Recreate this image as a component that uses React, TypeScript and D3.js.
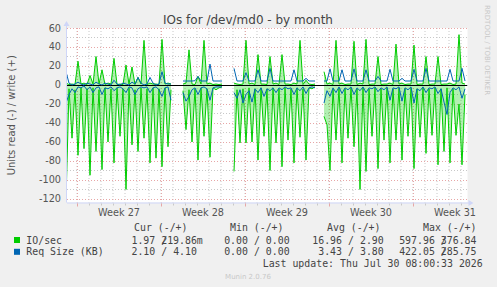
import { scaleLinear, scaleUtc, line, area, utcMonday, utcDay, utcFormat, range } from "d3";

const W = 497;
const H = 287;

// samples every 6 hours, starting 2026-06-28 02:00 UTC
const SAMPLE_START = Date.UTC(2026, 5, 28, 2);
const SAMPLE_STEP = 6 * 3600 * 1000;

// IO/sec, read (drawn below zero) and write (drawn above zero)
const ioRead: (number | null)[] = [
  122, 4, 56, 5, 74, 3, 67, 4, 95, 3, 70, 5, 89, 3, 60, 4, 82, 3, 54, 4,
  110, 3, 63, 5, 70, 3, 56, 4, 82, 3, 77, 4, 86, 3, 65, 5, null, null, null, 6,
  47, 5, 60, 4, 79, 3, 54, 4, 76, 3, 5, 3, 2, null, null, null, 91, 5, 61, 4,
  61, 3, 60, 4, 79, 3, 54, 4, 90, 3, 61, 4, 86, 3, 58, 4, 82, 3, 55, 4,
  79, 3, 4, 2, null, null, 33, 42, 90, 4, 58, 3, 82, 4, 56, 3, 65, 4, 110, 3,
  91, 4, 54, 3, 88, 4, 58, 3, 82, 4, 58, 3, 79, 4, 54, 3, 88, 4, 55, 3,
  72, 4, 53, 3, 84, 4, 70, 3, 82, 4, 53, 20, 84, 10,
];
const ioWrite: (number | null)[] = [
  2, 0.5, 1, 0.5, 25, 1, 2, 0.5, 10, 1, 30, 1, 16, 0.5, 2, 1, 28, 0.5, 1, 0.5,
  21, 1, 19, 0.5, 8, 1, 47, 0.5, 2, 1, 1, 0.5, 48, 1, 2, 1, null, null, null, 1,
  2, 37, 1, 0.5, 9, 1, 47, 1, 2, 0.5, 1, 0.5, 1, null, null, null, 2, 1, 0.5, 1,
  47, 1, 2, 0.5, 32, 1, 1, 0.5, 30, 1, 2, 0.5, 32, 1, 1, 0.5, 2, 1, 47, 0.5,
  5, 1, 0.5, 1, null, null, 14, 1, 2, 0.5, 47, 1, 2, 0.5, 1, 1, 46, 0.5, 2, 1,
  48, 0.5, 1, 1, 30, 0.5, 1, 1, 2, 0.5, 43, 1, 2, 0.5, 1, 1, 42, 0.5, 1, 1,
  30, 0.5, 1, 1, 30, 0.5, 1, 1, 2, 0.5, 1, 53, 2, 1,
];

// Req Size (KB), read and write
const reqRead: (number | null)[] = [
  19, 10, 4, 8, 2, 3, 1, 5, 2, 8, 3, 2, 10, 3, 4, 2, 6, 3, 2, 4,
  8, 2, 3, 10, 4, 2, 3, 2, 8, 3, 2, 5, 12, 3, 2, 16, null, null, null, 8,
  17, 12, 5, 3, 10, 3, 2, 4, 16, 3, 2, 2, 2, null, null, null, 8, 14, 5, 19,
  10, 6, 18, 4, 8, 3, 12, 4, 6, 3, 8, 3, 5, 2, 4, 3, 10, 3, 6, 2,
  9, 3, 2, 3, null, null, 19, 6, 12, 3, 8, 2, 9, 3, 5, 2, 10, 3, 6, 2,
  8, 3, 4, 2, 7, 3, 5, 2, 16, 3, 4, 2, 17, 3, 5, 2, 19, 4, 6, 2,
  8, 3, 4, 2, 9, 4, 18, 31, 8, 3, 5, 2, 14, 4,
];
const reqWrite: (number | null)[] = [
  14, 2, 0, 1, 3, 1, 0, 2, 1, 0, 3, 1, 0, 2, 1, 0, 5, 1, 0, 2,
  1, 0, 3, 1, 8, 2, 0, 1, 8, 2, 0, 1, 14, 2, 1, 1, null, null, null, 4.2,
  4.2, 4.2, 4.2, 4.5, 9, 4.2, 4.2, 4.2, 22, 4.2, 4.2, 4.2, 4.2, null, null, null, 17.5, 4.2, 4.2, 4.2,
  13, 4.2, 4.2, 4.2, 16, 4.2, 4.2, 4.2, 17.5, 4.2, 4.2, 4.2, 4.2, 4.2, 4.2, 4.2, 16, 4.2, 4.2, 4.2,
  7, 4.2, 4.2, 4.2, null, null, 4.2, 4.2, 17, 4.2, 4.2, 4.2, 16, 4.2, 4.2, 4.2, 17, 4.2, 4.2, 4.2,
  16, 4.2, 4.2, 4.2, 9, 4.2, 4.2, 4.2, 16.5, 4.2, 4.2, 4.2, 7, 4.2, 4.2, 4.2, 16.5, 4.2, 4.2, 4.2,
  17.5, 4.2, 4.2, 4.2, 4.2, 4.2, 4.2, 4.2, 16.5, 4.2, 4.2, 4.2, 17.5, 4.2,
];

const yTicks = [60, 40, 20, 0, -20, -40, -60, -80, -100, -120];
const gridValues = range(-120, 61, 10);

const legendHeaders = ["Cur (-/+)", "Min (-/+)", "Avg (-/+)", "Max (-/+)"];
const legendRows = [
  { name: "IO/sec", color: "#00cc00", values: [["1.97", "219.86m"], ["0.00", "0.00"], ["16.96", "2.90"], ["597.96", "376.84"]] },
  { name: "Req Size (KB)", color: "#0066b3", values: [["2.10", "4.10"], ["0.00", "0.00"], ["3.43", "3.80"], ["422.05", "285.75"]] },
];

const left = 67;
const right = 467.5;
const top = 28;
const bottom = 202.5;

const x = scaleUtc()
  .domain([new Date(Date.UTC(2026, 5, 28, 4)), new Date(Date.UTC(2026, 6, 31, 13))])
  .range([left, right]);
const y = scaleLinear().domain([-123.7, 60]).range([bottom, top]);

const t = (i: number) => new Date(SAMPLE_START + i * SAMPLE_STEP);

const toPoints = (vals: (number | null)[], sign: number) =>
  vals.map((v, i) => ({ d: t(i), v: v == null ? null : sign * v }));

type P = { d: Date; v: number | null };
const ln = line<P>()
  .defined((p) => p.v != null)
  .x((p) => x(p.d))
  .y((p) => y(p.v as number));
const ar = area<P>()
  .defined((p) => p.v != null)
  .x((p) => x(p.d))
  .y0(y(0))
  .y1((p) => y(p.v as number));

const MONO = "'DejaVu Sans Mono', monospace";
const SANS = "'DejaVu Sans', sans-serif";
const CW = 5.97;
// x of the "/" in each legend column
const slashX = [161.2, 253.9, 348, 440.8];
const headerX = [134, 230, 327, 423];

export default function App() {
  const weeks = utcMonday.range(x.domain()[0], x.domain()[1]);
  const days = utcDay.range(x.domain()[0], x.domain()[1]);
  const weekFmt = utcFormat("%V");

  const gRead = toPoints(ioRead, -1);
  const gWrite = toPoints(ioWrite, 1);
  const bRead = toPoints(reqRead, -1);
  const bWrite = toPoints(reqWrite, 1);

  return (
    <svg
      width={W}
      height={H}
      style={{ position: "fixed", left: 0, top: 0, background: "#f0f0f0" }}
    >
      <defs>
        <clipPath id="plot">
          <rect x={left} y={top - 6} width={right - left} height={bottom - top + 6} />
        </clipPath>
      </defs>
      <rect x={left} y={top} width={right - left} height={bottom - top} fill="#ffffff" />

      {/* grid */}
      {days.map((d) => (
        <line key={+d} x1={x(d)} x2={x(d)} y1={top} y2={bottom} stroke="#c8c8c8" strokeDasharray="1,2" />
      ))}
      {gridValues.map((v) => (
        <line
          key={v}
          x1={left}
          x2={right}
          y1={Math.round(y(v)) + 0.5}
          y2={Math.round(y(v)) + 0.5}
          stroke={v % 20 === 0 ? "#e7a6a6" : "#c8c8c8"}
          strokeDasharray="1,2"
        />
      ))}
      {weeks.map((d) => (
        <line key={+d} x1={Math.round(x(d)) + 0.5} x2={Math.round(x(d)) + 0.5} y1={top} y2={bottom} stroke="#e7a6a6" strokeDasharray="1,2" />
      ))}

      {/* data */}
      <g clipPath="url(#plot)">
        <path d={ar(gRead) ?? ""} fill="#00cc00" opacity={0.3} />
        <path d={ar(gWrite) ?? ""} fill="#00cc00" opacity={0.3} />
        <line x1={left} x2={right} y1={Math.round(y(0)) + 0.5} y2={Math.round(y(0)) + 0.5} stroke="#000" />
        <path d={ln(gRead) ?? ""} fill="none" stroke="#00cc00" strokeWidth={1} />
        <path d={ln(gWrite) ?? ""} fill="none" stroke="#00cc00" strokeWidth={1} />
        <path d={ln(bRead) ?? ""} fill="none" stroke="#0066b3" strokeWidth={1} />
        <path d={ln(bWrite) ?? ""} fill="none" stroke="#0066b3" strokeWidth={1} />
      </g>

      {/* axes */}
      <line x1={left - 0.5} x2={left - 0.5} y1={bottom} y2={top - 4} stroke="#cfd6f8" />
      <path d={`M${left - 3.5},${top - 2} L${left - 0.5},${top - 7} L${left + 2.5},${top - 2} Z`} fill="#cfd6f8" />
      <line x1={left} x2={right + 2} y1={bottom + 0.5} y2={bottom + 0.5} stroke="#cfd6f8" />
      <path d={`M${right + 1},${bottom - 2.5} L${right + 6},${bottom + 0.5} L${right + 1},${bottom + 3.5} Z`} fill="#cfd6f8" />
      {days.map((d) => (
        <line key={+d} x1={Math.round(x(d)) + 0.5} x2={Math.round(x(d)) + 0.5} y1={bottom + 1} y2={bottom + 3} stroke="#c8c8c8" />
      ))}
      {weeks.map((d) => (
        <line key={+d} x1={Math.round(x(d)) + 0.5} x2={Math.round(x(d)) + 0.5} y1={bottom + 1} y2={bottom + 4} stroke="#e7a6a6" />
      ))}

      {/* tick labels */}
      {yTicks.map((v) => (
        <text key={v} x={61} y={y(v) + 3.5} textAnchor="end" fontFamily={SANS} fontSize={9.7} fill="#555">
          {v}
        </text>
      ))}
      {weeks.map((d) => (
        <text key={+d} x={x(new Date(+d + 3.5 * 864e5))} y={216} textAnchor="middle" fontFamily={SANS} fontSize={9.7} fill="#555">
          {`Week ${+weekFmt(d)}`}
        </text>
      ))}

      {/* titles */}
      <text x={248} y={23.5} textAnchor="middle" fontFamily={SANS} fontSize={12} fill="#444">
        IOs for /dev/md0 - by month
      </text>
      <text
        transform={`translate(15,${(top + bottom) / 2}) rotate(-90)`}
        textAnchor="middle"
        fontFamily={SANS}
        fontSize={10}
        fill="#555"
      >
        Units read (-) / write (+)
      </text>
      <text transform="translate(485,5) rotate(90)" fontFamily={SANS} fontSize={7} fill="#c8c8c8">
        RRDTOOL / TOBI OETIKER
      </text>

      {/* legend */}
      <g fontFamily={MONO} fontSize={9.9} fill="#444">
        {legendHeaders.map((h, i) => (
          <text key={h} x={headerX[i]} y={231} style={{ whiteSpace: "pre" }}>
            {h}
          </text>
        ))}
        {legendRows.map((r, ri) => {
          const yb = 243.5 + ri * 11.8;
          return (
            <g key={r.name}>
              <rect x={14} y={yb - 6.5} width={6} height={6} fill={r.color} />
              <text x={26.3} y={yb}>{r.name}</text>
              {r.values.map(([a, b], ci) => {
                const s = slashX[ci];
                const num = b.replace(/[a-zA-Z]$/, "");
                return (
                  <g key={ci}>
                    <text x={s - CW} y={yb} textAnchor="end">{a}</text>
                    <text x={s} y={yb}>/</text>
                    <text x={s + 6 * CW - num.length * CW} y={yb}>{b}</text>
                  </g>
                );
              })}
            </g>
          );
        })}
        <text x={482.7} y={267} textAnchor="end">
          Last update: Thu Jul 30 08:00:33 2026
        </text>
      </g>
      <text x={248} y={279} textAnchor="middle" fontFamily={SANS} fontSize={7} fill="#c8c8c8">
        Munin 2.0.76
      </text>
    </svg>
  );
}
